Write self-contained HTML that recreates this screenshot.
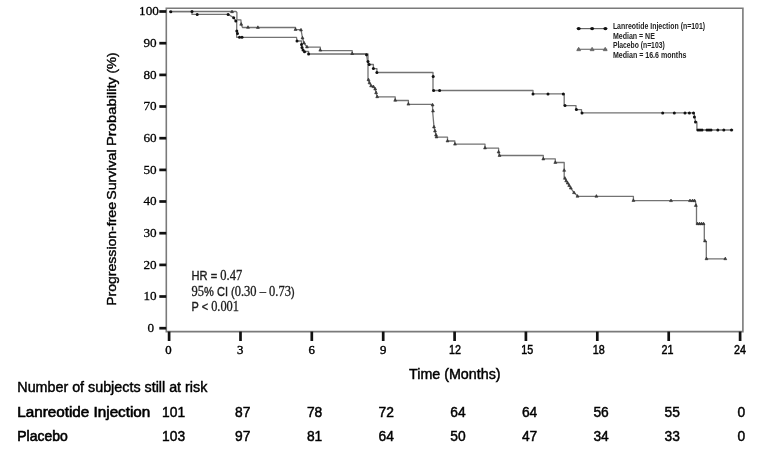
<!DOCTYPE html>
<html lang="en">
<head>
<meta charset="utf-8">
<title>Progression-free survival: Lanreotide Injection vs Placebo</title>
<style>
html,body{margin:0;padding:0;background:#fff;}
body{width:772px;height:457px;overflow:hidden;}
svg{display:block;filter:blur(0.55px);}
.sans{font-family:"Liberation Sans",Arial,sans-serif;}
.serif{font-family:"Liberation Serif","Times New Roman",serif;}
</style>
</head>
<body>
<svg width="772" height="457" viewBox="0 0 772 457">
<rect x="0" y="0" width="772" height="457" fill="#ffffff"/>
<g id="frame" fill="none" stroke="#7a7a7a" stroke-width="1.6">
<path d="M166.3,331.6 L166.3,8.3 L742.9,8.3 L742.9,331.6 Z"/>
</g>

<g id="yticks" stroke="#111" stroke-width="2.7" fill="none">
<path d="M159.3,328.2 H166.2"/>
<path d="M159.3,296.5 H166.2"/>
<path d="M159.3,264.9 H166.2"/>
<path d="M159.3,233.2 H166.2"/>
<path d="M159.3,201.5 H166.2"/>
<path d="M159.3,169.9 H166.2"/>
<path d="M159.3,138.2 H166.2"/>
<path d="M159.3,106.5 H166.2"/>
<path d="M159.3,74.9 H166.2"/>
<path d="M159.3,43.2 H166.2"/>
<path d="M159.3,11.5 H166.2"/>
</g>
<g id="ylabels" class="serif" font-size="13.2" fill="#000" stroke="#000" stroke-width="0.28" text-anchor="middle">
<text x="150.9" y="332.1">0</text>
<text x="150.1" y="300.4">10</text>
<text x="150.1" y="268.8">20</text>
<text x="150.1" y="237.1">30</text>
<text x="150.1" y="205.4">40</text>
<text x="150.1" y="173.8">50</text>
<text x="150.1" y="142.1">60</text>
<text x="150.1" y="110.4">70</text>
<text x="150.1" y="78.8">80</text>
<text x="150.1" y="47.1">90</text>
<text x="149.0" y="15.4">100</text>
</g>
<g id="xticks" stroke="#111" stroke-width="2.7" fill="none">
<path d="M169.1,331.6 V341"/>
<path d="M240.5,331.6 V341"/>
<path d="M311.8,331.6 V341"/>
<path d="M383.2,331.6 V341"/>
<path d="M454.6,331.6 V341"/>
<path d="M525.9,331.6 V341"/>
<path d="M597.3,331.6 V341"/>
<path d="M668.7,331.6 V341"/>
<path d="M740.1,331.6 V341"/>
</g>
<g id="xlabels" fill="#000" stroke="#000" text-anchor="middle">
<text class="serif" font-size="12.8" stroke-width="0.4" x="168.5" y="354.1">0</text>
<text class="serif" font-size="12.8" stroke-width="0.4" x="240.1" y="354.1">3</text>
<text class="serif" font-size="12.8" stroke-width="0.4" x="311.8" y="354.1">6</text>
<text class="serif" font-size="12.8" stroke-width="0.4" x="383.1" y="354.1">9</text>
<text class="sans" font-size="13" stroke-width="0.45" x="455.1" y="354.3" textLength="12.0" lengthAdjust="spacingAndGlyphs">12</text>
<text class="sans" font-size="13" stroke-width="0.45" x="527.2" y="354.3" textLength="12.0" lengthAdjust="spacingAndGlyphs">15</text>
<text class="sans" font-size="13" stroke-width="0.45" x="598.8" y="354.3" textLength="12.0" lengthAdjust="spacingAndGlyphs">18</text>
<text class="sans" font-size="13" stroke-width="0.45" x="667.6" y="354.3" textLength="12.0" lengthAdjust="spacingAndGlyphs">21</text>
<text class="sans" font-size="13" stroke-width="0.45" x="740.0" y="354.3" textLength="12.0" lengthAdjust="spacingAndGlyphs">24</text>
</g>
<g id="ytitle" class="sans" font-size="13.6" fill="#000" stroke="#000" stroke-width="0.38" transform="translate(116.4,0) rotate(-90)">
<text x="-305.8" y="0" textLength="103.8" lengthAdjust="spacingAndGlyphs">Progression-free</text>
<text x="-199.8" y="0" textLength="50.4" lengthAdjust="spacingAndGlyphs">Survival</text>
<text x="-146.0" y="0" textLength="69.0" lengthAdjust="spacingAndGlyphs">Probability</text>
<text x="-73.4" y="0" textLength="21" lengthAdjust="spacingAndGlyphs">(%)</text>
</g>
<text class="sans" font-size="14.3" fill="#000" stroke="#000" stroke-width="0.45" x="409" y="378.9" textLength="91.6" lengthAdjust="spacingAndGlyphs">Time (Months)</text>
<g id="stats" class="sans" font-size="12" fill="#1c1c1c" stroke="#1c1c1c" stroke-width="0.35">
<text x="191.6" y="279.9" textLength="50.6" lengthAdjust="spacingAndGlyphs">HR = <tspan class="serif" font-size="13.6" stroke-width="0.3">0.47</tspan></text>
<text x="191.6" y="296.3" textLength="103" lengthAdjust="spacingAndGlyphs"><tspan class="serif" font-size="13.6" stroke-width="0.3">95</tspan>% CI (<tspan class="serif" font-size="13.6" stroke-width="0.3">0.30 – 0.73</tspan>)</text>
<text x="191.6" y="311.1" textLength="47.4" lengthAdjust="spacingAndGlyphs">P &lt; <tspan class="serif" font-size="13.6" stroke-width="0.3">0.001</tspan></text>
</g>
<path id="placebo" d="M169.0,11.5 L236.0,11.5 L236.9,12.5 L236.9,19.8 L240.9,19.8 L241.2,24.3 L242.5,27.5 L295.5,27.5 L295.5,29.7 L301.0,29.7 L302.5,38.0 L304.0,43.0 L307.0,47.2 L320.3,47.2 L320.3,50.7 L352.2,50.7 L352.2,54.0 L368.0,54.0 L368.0,79.8 L369.5,82.9 L371.1,85.9 L373.4,86.7 L375.2,89.0 L376.1,92.8 L377.2,96.8 L395.2,96.8 L395.2,100.5 L408.4,100.5 L408.4,104.3 L432.6,104.3 L432.6,111.0 L434.0,127.0 L435.0,131.0 L436.0,135.0 L436.5,137.2 L447.5,137.2 L447.5,141.0 L454.8,141.0 L454.8,144.2 L485.0,144.2 L485.0,148.2 L498.6,148.2 L498.6,152.0 L499.5,155.5 L543.3,155.5 L543.3,158.8 L555.3,158.8 L555.3,162.5 L564.2,162.5 L564.2,177.6 L564.9,178.3 L566.2,180.9 L567.7,183.1 L569.2,185.5 L570.8,188.1 L574.0,192.7 L578.0,196.3 L633.4,196.3 L633.4,200.5 L695.0,200.7 L696.5,205.5 L696.5,223.8 L704.3,223.8 L704.3,241.3 L706.3,241.3 L706.3,258.8 L725.3,258.8" fill="none" stroke="#737373" stroke-width="1.3" stroke-linejoin="round"/>
<path id="lanreotide" d="M169.0,11.6 L192.0,11.6 L192.0,14.4 L228.3,14.4 L233.7,17.7 L235.8,21.0 L236.7,21.0 L236.7,37.3 L296.5,37.3 L297.0,41.0 L301.5,41.0 L301.5,44.5 L302.0,47.5 L303.0,50.0 L304.5,51.5 L308.6,51.5 L308.6,54.0 L366.5,54.0 L367.5,61.4 L369.2,64.5 L373.4,64.5 L373.4,68.6 L376.9,68.6 L376.9,72.5 L433.0,72.5 L433.0,90.5 L533.0,90.5 L533.0,93.9 L564.2,93.9 L564.2,105.6 L576.0,105.6 L576.0,109.6 L581.5,109.6 L581.5,112.9 L694.0,112.9 L695.5,122.0 L696.9,122.0 L696.9,130.0 L733.2,130.0" fill="none" stroke="#737373" stroke-width="1.3" stroke-linejoin="round"/>
<g id="placebo-marks" fill="#444" stroke="#2a2a2a" stroke-width="0.6" stroke-linejoin="round">
<path d="M232.0,10.1 l1.45,2.6 h-2.9 Z"/>
<path d="M241.2,22.6 l1.45,2.6 h-2.9 Z"/>
<path d="M248.0,25.7 l1.45,2.6 h-2.9 Z"/>
<path d="M257.9,25.8 l1.45,2.6 h-2.9 Z"/>
<path d="M295.5,27.8 l1.45,2.6 h-2.9 Z"/>
<path d="M301.0,28.3 l1.45,2.6 h-2.9 Z"/>
<path d="M302.5,36.3 l1.45,2.6 h-2.9 Z"/>
<path d="M304.0,41.3 l1.45,2.6 h-2.9 Z"/>
<path d="M307.0,45.3 l1.45,2.6 h-2.9 Z"/>
<path d="M320.3,48.5 l1.45,2.6 h-2.9 Z"/>
<path d="M352.2,51.9 l1.45,2.6 h-2.9 Z"/>
<path d="M368.5,78.1 l1.45,2.6 h-2.9 Z"/>
<path d="M369.5,81.2 l1.45,2.6 h-2.9 Z"/>
<path d="M371.1,84.2 l1.45,2.6 h-2.9 Z"/>
<path d="M373.4,85.0 l1.45,2.6 h-2.9 Z"/>
<path d="M375.2,87.3 l1.45,2.6 h-2.9 Z"/>
<path d="M376.1,91.1 l1.45,2.6 h-2.9 Z"/>
<path d="M377.2,95.1 l1.45,2.6 h-2.9 Z"/>
<path d="M395.2,98.6 l1.45,2.6 h-2.9 Z"/>
<path d="M408.4,102.5 l1.45,2.6 h-2.9 Z"/>
<path d="M432.6,103.3 l1.45,2.6 h-2.9 Z"/>
<path d="M433.0,109.3 l1.45,2.6 h-2.9 Z"/>
<path d="M434.0,125.3 l1.45,2.6 h-2.9 Z"/>
<path d="M435.0,129.3 l1.45,2.6 h-2.9 Z"/>
<path d="M436.0,133.3 l1.45,2.6 h-2.9 Z"/>
<path d="M436.5,135.3 l1.45,2.6 h-2.9 Z"/>
<path d="M447.5,139.3 l1.45,2.6 h-2.9 Z"/>
<path d="M455.0,142.5 l1.45,2.6 h-2.9 Z"/>
<path d="M485.0,146.3 l1.45,2.6 h-2.9 Z"/>
<path d="M498.6,150.3 l1.45,2.6 h-2.9 Z"/>
<path d="M499.5,153.8 l1.45,2.6 h-2.9 Z"/>
<path d="M543.3,157.3 l1.45,2.6 h-2.9 Z"/>
<path d="M555.3,160.8 l1.45,2.6 h-2.9 Z"/>
<path d="M564.2,168.7 l1.45,2.6 h-2.9 Z"/>
<path d="M564.9,176.6 l1.45,2.6 h-2.9 Z"/>
<path d="M566.2,179.2 l1.45,2.6 h-2.9 Z"/>
<path d="M567.7,181.4 l1.45,2.6 h-2.9 Z"/>
<path d="M569.2,183.8 l1.45,2.6 h-2.9 Z"/>
<path d="M570.8,186.4 l1.45,2.6 h-2.9 Z"/>
<path d="M574.0,191.0 l1.45,2.6 h-2.9 Z"/>
<path d="M577.5,194.6 l1.45,2.6 h-2.9 Z"/>
<path d="M596.4,194.6 l1.45,2.6 h-2.9 Z"/>
<path d="M633.4,198.8 l1.45,2.6 h-2.9 Z"/>
<path d="M671.0,199.0 l1.45,2.6 h-2.9 Z"/>
<path d="M690.0,199.0 l1.45,2.6 h-2.9 Z"/>
<path d="M692.5,199.0 l1.45,2.6 h-2.9 Z"/>
<path d="M694.5,199.0 l1.45,2.6 h-2.9 Z"/>
<path d="M695.8,203.8 l1.45,2.6 h-2.9 Z"/>
<path d="M697.5,222.1 l1.45,2.6 h-2.9 Z"/>
<path d="M699.5,222.1 l1.45,2.6 h-2.9 Z"/>
<path d="M701.5,222.1 l1.45,2.6 h-2.9 Z"/>
<path d="M703.5,222.1 l1.45,2.6 h-2.9 Z"/>
<path d="M705.0,239.3 l1.45,2.6 h-2.9 Z"/>
<path d="M706.5,257.1 l1.45,2.6 h-2.9 Z"/>
<path d="M725.3,257.1 l1.45,2.6 h-2.9 Z"/>
</g>
<g id="lanreotide-marks" fill="#111">
<circle cx="170.8" cy="11.7" r="1.5"/>
<circle cx="192.0" cy="11.6" r="1.5"/>
<circle cx="197.2" cy="14.4" r="1.5"/>
<circle cx="228.1" cy="14.4" r="1.5"/>
<circle cx="233.7" cy="17.7" r="1.5"/>
<circle cx="235.8" cy="21.0" r="1.5"/>
<circle cx="236.8" cy="30.9" r="1.5"/>
<circle cx="237.5" cy="33.5" r="1.5"/>
<circle cx="239.5" cy="37.3" r="1.5"/>
<circle cx="242.0" cy="37.3" r="1.5"/>
<circle cx="297.0" cy="41.0" r="1.5"/>
<circle cx="301.5" cy="44.5" r="1.5"/>
<circle cx="302.0" cy="47.5" r="1.5"/>
<circle cx="303.0" cy="50.0" r="1.5"/>
<circle cx="304.5" cy="51.7" r="1.5"/>
<circle cx="308.6" cy="54.0" r="1.5"/>
<circle cx="366.5" cy="54.7" r="1.5"/>
<circle cx="368.0" cy="61.4" r="1.5"/>
<circle cx="369.2" cy="64.5" r="1.5"/>
<circle cx="373.4" cy="68.6" r="1.5"/>
<circle cx="376.9" cy="72.5" r="1.5"/>
<circle cx="433.2" cy="76.5" r="1.5"/>
<circle cx="433.6" cy="90.5" r="1.5"/>
<circle cx="439.6" cy="90.5" r="1.5"/>
<circle cx="533.0" cy="93.9" r="1.5"/>
<circle cx="548.0" cy="93.9" r="1.5"/>
<circle cx="563.3" cy="93.9" r="1.5"/>
<circle cx="565.0" cy="105.6" r="1.5"/>
<circle cx="576.4" cy="109.6" r="1.5"/>
<circle cx="582.0" cy="112.9" r="1.5"/>
<circle cx="662.7" cy="112.9" r="1.5"/>
<circle cx="674.3" cy="112.9" r="1.5"/>
<circle cx="685.0" cy="112.9" r="1.5"/>
<circle cx="689.4" cy="112.9" r="1.5"/>
<circle cx="693.5" cy="112.9" r="1.5"/>
<circle cx="694.4" cy="117.1" r="1.5"/>
<circle cx="695.5" cy="122.0" r="1.5"/>
<circle cx="698.0" cy="130.0" r="1.5"/>
<circle cx="700.0" cy="130.0" r="1.5"/>
<circle cx="702.0" cy="130.0" r="1.5"/>
<circle cx="707.0" cy="130.0" r="1.5"/>
<circle cx="709.0" cy="130.0" r="1.5"/>
<circle cx="711.0" cy="130.0" r="1.5"/>
<circle cx="717.8" cy="130.0" r="1.5"/>
<circle cx="723.8" cy="130.0" r="1.5"/>
<circle cx="731.5" cy="130.0" r="1.5"/>
</g>
<g id="legend">
<path d="M576.9,28.6 H607.2" stroke="#666" stroke-width="1.2" fill="none"/>
<g fill="#111"><ellipse cx="578.7" cy="28.6" rx="2" ry="1.6"/><ellipse cx="592.1" cy="28.6" rx="2" ry="1.6"/><ellipse cx="605.4" cy="28.6" rx="2" ry="1.6"/></g>
<path d="M576.9,49.3 H607.2" stroke="#777" stroke-width="1.2" fill="none"/>
<g fill="#6a6a6a" stroke="#555" stroke-width="0.6" stroke-linejoin="round"><path d="M578.7,47.2 l2,3.5 h-4 Z"/><path d="M592.1,47.2 l2,3.5 h-4 Z"/><path d="M605.2,47.2 l2,3.5 h-4 Z"/></g>
<g class="sans" font-size="8.2" font-weight="bold" fill="#222">
<text x="612.9" y="28.7" textLength="92.2" lengthAdjust="spacingAndGlyphs">Lanreotide Injection (n=101)</text>
<text x="612.9" y="38.6" textLength="42" lengthAdjust="spacingAndGlyphs">Median = NE</text>
<text x="612.9" y="47.9" textLength="51.8" lengthAdjust="spacingAndGlyphs">Placebo (n=103)</text>
<text x="612.9" y="58" textLength="73.5" lengthAdjust="spacingAndGlyphs">Median = 16.6 months</text>
</g>
</g>

<g id="risk" class="sans" font-size="13.8" fill="#000" stroke="#000" stroke-width="0.45">
<text x="17.3" y="391.5" stroke-width="0.42" textLength="190" lengthAdjust="spacingAndGlyphs">Number of subjects still at risk</text>
<text x="17.3" y="417.0" stroke-width="0.58" textLength="133" lengthAdjust="spacingAndGlyphs">Lanreotide Injection</text>
<text x="17.3" y="440.7" stroke-width="0.58" textLength="50.5" lengthAdjust="spacingAndGlyphs">Placebo</text>
<text x="173.6" y="417.0" text-anchor="middle">101</text>
<text x="173.6" y="440.7" text-anchor="middle">103</text>
<text x="242.7" y="417.0" text-anchor="middle">87</text>
<text x="242.7" y="440.7" text-anchor="middle">97</text>
<text x="314.6" y="417.0" text-anchor="middle">78</text>
<text x="314.6" y="440.7" text-anchor="middle">81</text>
<text x="386.2" y="417.0" text-anchor="middle">72</text>
<text x="386.2" y="440.7" text-anchor="middle">64</text>
<text x="457.9" y="417.0" text-anchor="middle">64</text>
<text x="457.9" y="440.7" text-anchor="middle">50</text>
<text x="529.6" y="417.0" text-anchor="middle">64</text>
<text x="529.6" y="440.7" text-anchor="middle">47</text>
<text x="601.1" y="417.0" text-anchor="middle">56</text>
<text x="601.1" y="440.7" text-anchor="middle">34</text>
<text x="672.2" y="417.0" text-anchor="middle">55</text>
<text x="672.2" y="440.7" text-anchor="middle">33</text>
<text x="741.4" y="417.0" text-anchor="middle">0</text>
<text x="741.4" y="440.7" text-anchor="middle">0</text>
</g>
</svg>
</body>
</html>
